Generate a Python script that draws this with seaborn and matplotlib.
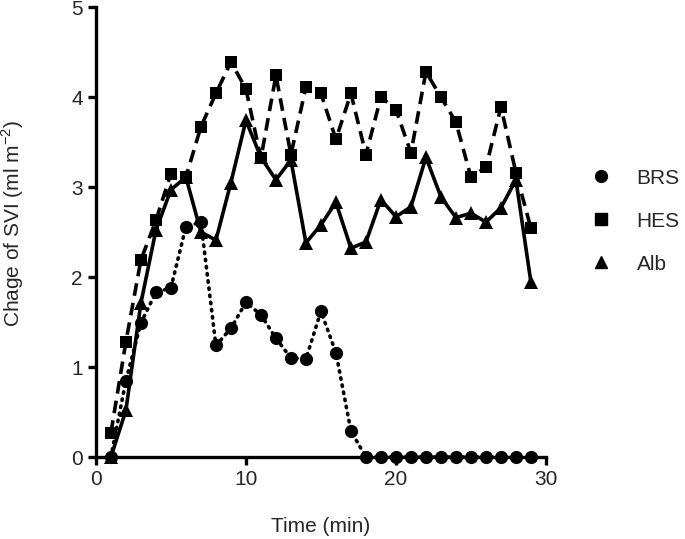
import numpy as np
import pandas as pd
import matplotlib
matplotlib.use("Agg")
import matplotlib.pyplot as plt
import seaborn as sns
from matplotlib.lines import Line2D

sns.set_style("ticks")
plt.rcParams['font.family'] = ['Liberation Sans', 'DejaVu Sans']
plt.rcParams['mathtext.fontset'] = 'custom'
plt.rcParams['mathtext.rm'] = 'Liberation Sans'

# time points (min)
time = list(range(1, 30))

brs = [0.0, 0.85, 1.49, 1.83, 1.88, 2.56, 2.61, 1.24, 1.43, 1.72,
       1.58, 1.32, 1.10, 1.09, 1.62, 1.16, 0.29, 0.0, 0.0, 0.0,
       0.0, 0.0, 0.0, 0.0, 0.0, 0.0, 0.0, 0.0, 0.0]
hes = [0.27, 1.28, 2.19, 2.63, 3.15, 3.11, 3.67, 4.04, 4.39, 4.09,
       3.32, 4.24, 3.36, 4.11, 4.04, 3.53, 4.04, 3.36, 4.00, 3.86,
       3.38, 4.28, 4.00, 3.72, 3.11, 3.22, 3.89, 3.16, 2.54]
alb = [0.0, 0.52, 1.71, 2.52, 2.97, 3.11, 2.50, 2.41, 3.05, 3.74,
       3.33, 3.08, 3.30, 2.38, 2.58, 2.83, 2.32, 2.39, 2.86, 2.67,
       2.78, 3.33, 2.89, 2.66, 2.71, 2.61, 2.77, 3.08, 1.94]

df = pd.DataFrame({'Time': time, 'BRS': brs, 'HES': hes, 'Alb': alb})

fig = plt.figure(figsize=(6.85, 5.39), dpi=100)
ax = fig.add_axes([0.140, 0.152, 0.657, 0.835])

sns.lineplot(data=df, x='Time', y='BRS', ax=ax, color='black', lw=2.6,
             linestyle=(0, (0.4, 1.6)), dash_capstyle='round',
             marker='o', markersize=9.5, markeredgewidth=0)
sns.lineplot(data=df, x='Time', y='HES', ax=ax, color='black', lw=2.6,
             linestyle=(0, (3.5, 2.0)), marker='s', markersize=9,
             markeredgewidth=0)
sns.lineplot(data=df, x='Time', y='Alb', ax=ax, color='black', lw=2.6,
             linestyle='-', marker='^', markersize=9.5, markeredgewidth=0)

ax.set_xlim(0, 30)
ax.set_ylim(0, 5)
ax.set_xticks([0, 10, 20, 30])
ax.set_yticks([0, 1, 2, 3, 4, 5])
for s in ['left', 'bottom']:
    ax.spines[s].set_linewidth(2.4)
    ax.spines[s].set_color('black')
sns.despine(ax=ax)
ax.tick_params(width=2.4, length=6, labelsize=15, color='black')
ax.set_xlabel('Time (min)', fontsize=15)
ax.set_ylabel('Chage of SVI (ml m$^{-2}$)', fontsize=15)
ax.xaxis.set_label_coords(0.5, -0.133)
ax.yaxis.set_label_coords(-0.155, 0.52)
for sp in ax.spines.values():
    sp.set_clip_on(False)
for ln in ax.lines:
    ln.set_clip_on(False)

handles = [Line2D([], [], color='black', marker='o', linestyle='none', markersize=8.5),
           Line2D([], [], color='black', marker='s', linestyle='none', markersize=8),
           Line2D([], [], color='black', marker='^', linestyle='none', markersize=8.5)]
ax.legend(handles, ['BRS', 'HES', 'Alb'], loc='center left',
          bbox_to_anchor=(1.035, 0.524), frameon=False, fontsize=15,
          handletextpad=0.7, labelspacing=1.15)

fig.savefig('out.png', dpi=100)
